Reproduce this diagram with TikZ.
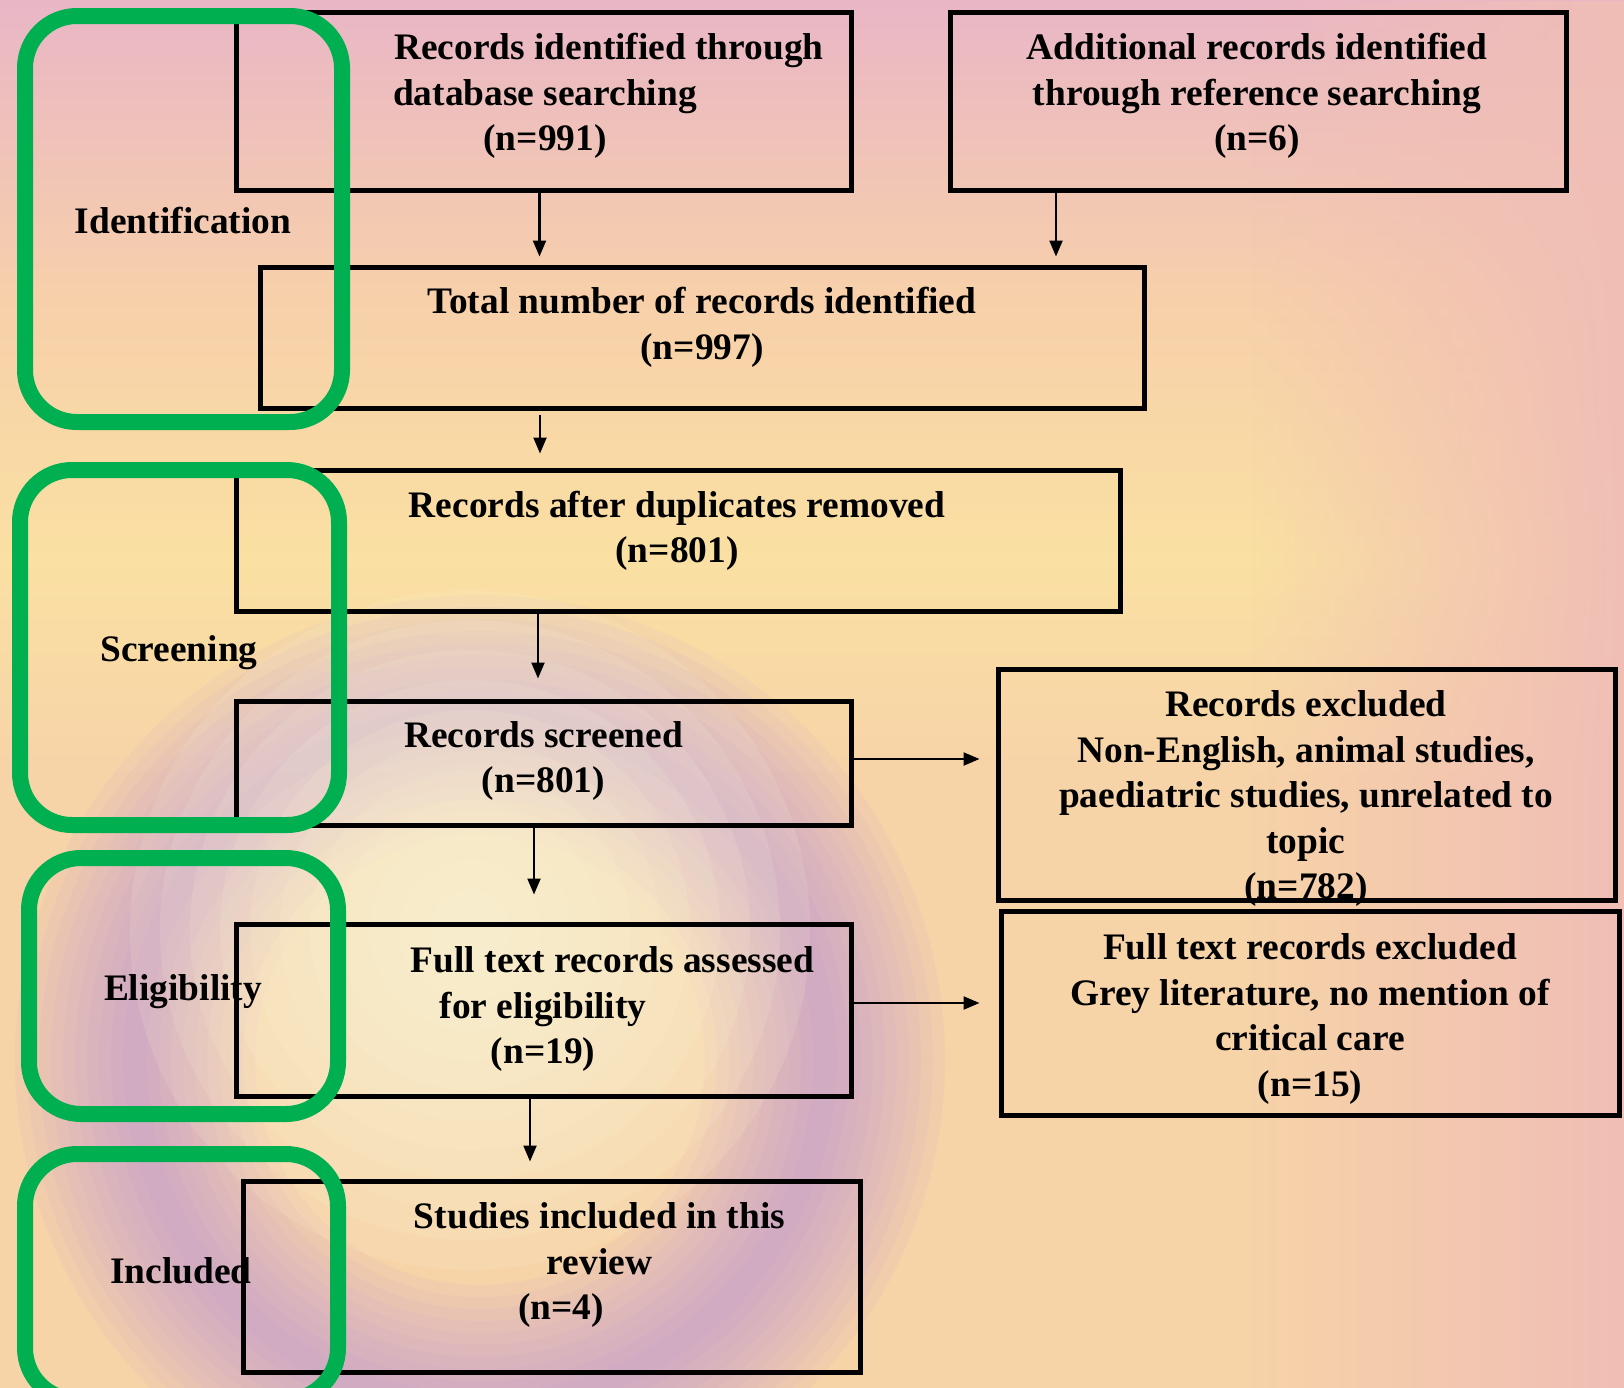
\documentclass[tikz,border=0pt]{standalone}
\usepackage{fontspec}
\setmainfont{Liberation Serif}
\usetikzlibrary{
    arrows.meta,
    positioning,
    fadings,
    calc
}
\definecolor{stagegreen}{RGB}{0,176,80}
\definecolor{bgpink}{RGB}{233,182,198}
\definecolor{bgrose}{RGB}{240,190,182}
\definecolor{bgpeach}{RGB}{247,208,170}
\definecolor{bgyellow}{RGB}{250,224,162}
\definecolor{bgsand}{RGB}{247,211,168}
\definecolor{blobpurple}{RGB}{186,146,222}
\definecolor{blobcream}{RGB}{253,249,218}
\tikzfading[name=fadeleft, left color=transparent!100, right color=transparent!0]
\tikzset{
    flowbox/.style={draw=black, line width=2.5pt, rectangle, inner sep=0pt},
    boxtext/.style={align=center, inner sep=0pt,
        font=\bfseries\fontsize{18.7}{22.75}\selectfont},
    stagebox/.style={draw=stagegreen, line width=8pt, rounded corners=26pt},
    flowarrow/.style={-{Triangle[length=8pt, width=6.5pt]}, line width=1.1pt}
}

\begin{document}
\begin{tikzpicture}[x=0.5pt, y=-0.5pt]
    \useasboundingbox (0,0) rectangle (1624,1388);
    % background
    \begin{scope}
        \clip (0,0) rectangle (1624,1388);
        \shade[top color=bgpink, bottom color=bgpeach] (0,0) rectangle (1624,300);
        \shade[top color=bgpeach, bottom color=bgyellow] (0,299) rectangle (1624,560);
        \shade[top color=bgyellow, bottom color=bgsand] (0,559) rectangle (1624,780);
        \fill[bgsand] (0,779) rectangle (1624,1388);
        \fill[bgrose, path fading=fadeleft] (1250,0) rectangle (1624,1388);
        % blurred ring
        \foreach \w in {12,24,...,120}
            \draw[blobpurple, line width=\w pt, opacity=0.08] (480,1060) circle (345);
        \foreach \r in {40,70,...,340}
            \fill[blobcream, opacity=0.12] (470,930) circle (\r);
    \end{scope}

    % boxes
    \node[flowbox, minimum width=307.5pt, minimum height=89pt] (db) at (543.5,101) {};
    \node[flowbox, minimum width=308pt, minimum height=89pt] (ref) at (1258,101) {};
    \node[flowbox, minimum width=442pt, minimum height=70.5pt] (total) at (702,337.5) {};
    \node[flowbox, minimum width=442pt, minimum height=70.5pt] (dup) at (678,540.5) {};
    \node[flowbox, minimum width=307.5pt, minimum height=62pt] (screened) at (543.5,763) {};
    \node[flowbox, minimum width=308.5pt, minimum height=115.5pt] (excl) at (1306.5,784.5) {};
    \node[flowbox, minimum width=307.5pt, minimum height=86pt] (fulltext) at (543.5,1010) {};
    \node[flowbox, minimum width=309pt, minimum height=102pt] (ftexcl) at (1310,1013) {};
    \node[flowbox, minimum width=308.5pt, minimum height=95.5pt] (included) at (551.5,1276.5) {};

    % arrows
    \draw[flowarrow] ([xshift=-2pt]db.south) -- ([xshift=-2pt, yshift=4pt]db.south |- total.north);
    \draw[flowarrow] ([xshift=-101pt]ref.south) -- ([xshift=-101pt, yshift=4pt]ref.south |- total.north);
    \draw[flowarrow] ([xshift=-81pt, yshift=-2pt]total.south) -- ([xshift=-81pt, yshift=7pt]total.south |- dup.north);
    \draw[flowarrow] ([xshift=-70pt]dup.south) -- ([xshift=-70pt, yshift=10pt]dup.south |- screened.north);
    \draw[flowarrow] ([xshift=-4.75pt]screened.south) -- ([xshift=-4.75pt, yshift=13.5pt]screened.south |- fulltext.north);
    \draw[flowarrow] ([xshift=-6.75pt]fulltext.south) -- ([xshift=-6.75pt, yshift=8.5pt]fulltext.south |- included.north);
    \draw[flowarrow] ([yshift=2pt]screened.east) -- ([xshift=-8pt, yshift=2pt]excl.west |- screened.east);
    \draw[flowarrow] ([yshift=3.5pt]fulltext.east) -- ([xshift=-9.5pt, yshift=3.5pt]ftexcl.west |- fulltext.east);

    % stage frames
    \draw[stagebox] (25,16) rectangle (342,422);
    \draw[stagebox] (20,470) rectangle (339,825);
    \draw[stagebox] (29,858) rectangle (338,1114);
    \draw[stagebox] (25,1154) rectangle (338,1400);

    % box texts
    \node[boxtext] (db-t) at (545,96) {\hspace*{64pt}Records identified through\\database searching\\(n=991)};
    \node[boxtext] (ref-t) at (1257,96) {Additional records identified\\through reference searching\\(n=6)};
    \node[boxtext] (total-t) at (702,327.5) {Total number of records identified\\(n=997)};
    \node[boxtext] (dup-t) at (677,531) {Records after duplicates removed\\(n=801)};
    \node[boxtext] (screened-t) at (543.5,761) {Records screened\\(n=801)};
    \node[boxtext] (excl-t) at (1306,798.5) {Records excluded\\Non-English, animal studies,\\paediatric studies, unrelated to\\topic\\(n=782)};
    \node[boxtext] (fulltext-t) at (543,1009) {\hspace*{69.5pt}Full text records assessed\\for eligibility\\(n=19)};
    \node[boxtext] (ftexcl-t) at (1310,1019) {Full text records excluded\\Grey literature, no mention of\\critical care\\(n=15)};
    \node[boxtext] (included-t) at (599.5,1265) {Studies included in this\\review\\(n=4)\hspace*{38.5pt}};

    % stage labels
    \node[boxtext] (ident-l) at (183,221) {Identification};
    \node[boxtext] (screen-l) at (179,653) {Screening};
    \node[boxtext] (elig-l) at (183,992) {Eligibility};
    \node[boxtext] (incl-l) at (181,1271) {Included};
\end{tikzpicture}
\end{document}
